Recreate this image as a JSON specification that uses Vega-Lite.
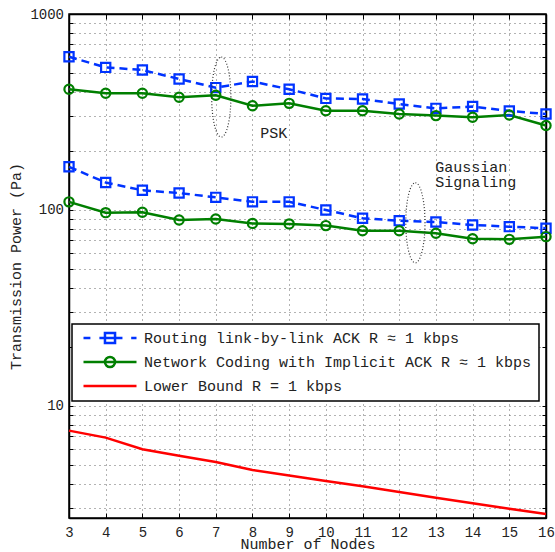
{
  "$schema": "https://vega.github.io/schema/vega-lite/v6.json",
  "width": 477,
  "height": 504,
  "autosize": {"type": "none"},
  "padding": {"left": 69, "top": 14, "right": 9, "bottom": 34},
  "background": "white",
  "config": {
    "font": "Liberation Mono",
    "view": {"stroke": "black", "strokeWidth": 1.5},
    "axis": {
      "labelFont": "Liberation Mono", "titleFont": "Liberation Mono",
      "labelFontSize": 14, "titleFontSize": 15, "titleFontWeight": "normal",
      "labelColor": "#222", "titleColor": "#222",
      "domainColor": "black", "domainWidth": 1.5,
      "tickColor": "black", "tickWidth": 1,
      "gridColor": "#666", "gridDash": [1, 4], "gridWidth": 1
    }
  },
  "datasets": {
    "series": [
      {"series": "Routing link-by-link ACK R ≈ 1 kbps", "mod": "PSK", "n": 3, "p": 605},
      {"series": "Routing link-by-link ACK R ≈ 1 kbps", "mod": "PSK", "n": 4, "p": 534},
      {"series": "Routing link-by-link ACK R ≈ 1 kbps", "mod": "PSK", "n": 5, "p": 518},
      {"series": "Routing link-by-link ACK R ≈ 1 kbps", "mod": "PSK", "n": 6, "p": 466},
      {"series": "Routing link-by-link ACK R ≈ 1 kbps", "mod": "PSK", "n": 7, "p": 421},
      {"series": "Routing link-by-link ACK R ≈ 1 kbps", "mod": "PSK", "n": 8, "p": 452},
      {"series": "Routing link-by-link ACK R ≈ 1 kbps", "mod": "PSK", "n": 9, "p": 413},
      {"series": "Routing link-by-link ACK R ≈ 1 kbps", "mod": "PSK", "n": 10, "p": 371},
      {"series": "Routing link-by-link ACK R ≈ 1 kbps", "mod": "PSK", "n": 11, "p": 368},
      {"series": "Routing link-by-link ACK R ≈ 1 kbps", "mod": "PSK", "n": 12, "p": 347},
      {"series": "Routing link-by-link ACK R ≈ 1 kbps", "mod": "PSK", "n": 13, "p": 330},
      {"series": "Routing link-by-link ACK R ≈ 1 kbps", "mod": "PSK", "n": 14, "p": 337},
      {"series": "Routing link-by-link ACK R ≈ 1 kbps", "mod": "PSK", "n": 15, "p": 320},
      {"series": "Routing link-by-link ACK R ≈ 1 kbps", "mod": "PSK", "n": 16, "p": 309},
      {"series": "Network Coding with Implicit ACK R ≈ 1 kbps", "mod": "PSK", "n": 3, "p": 413},
      {"series": "Network Coding with Implicit ACK R ≈ 1 kbps", "mod": "PSK", "n": 4, "p": 394},
      {"series": "Network Coding with Implicit ACK R ≈ 1 kbps", "mod": "PSK", "n": 5, "p": 394},
      {"series": "Network Coding with Implicit ACK R ≈ 1 kbps", "mod": "PSK", "n": 6, "p": 376},
      {"series": "Network Coding with Implicit ACK R ≈ 1 kbps", "mod": "PSK", "n": 7, "p": 385},
      {"series": "Network Coding with Implicit ACK R ≈ 1 kbps", "mod": "PSK", "n": 8, "p": 340},
      {"series": "Network Coding with Implicit ACK R ≈ 1 kbps", "mod": "PSK", "n": 9, "p": 350},
      {"series": "Network Coding with Implicit ACK R ≈ 1 kbps", "mod": "PSK", "n": 10, "p": 321},
      {"series": "Network Coding with Implicit ACK R ≈ 1 kbps", "mod": "PSK", "n": 11, "p": 321},
      {"series": "Network Coding with Implicit ACK R ≈ 1 kbps", "mod": "PSK", "n": 12, "p": 309},
      {"series": "Network Coding with Implicit ACK R ≈ 1 kbps", "mod": "PSK", "n": 13, "p": 303},
      {"series": "Network Coding with Implicit ACK R ≈ 1 kbps", "mod": "PSK", "n": 14, "p": 297},
      {"series": "Network Coding with Implicit ACK R ≈ 1 kbps", "mod": "PSK", "n": 15, "p": 305},
      {"series": "Network Coding with Implicit ACK R ≈ 1 kbps", "mod": "PSK", "n": 16, "p": 270},
      {"series": "Routing link-by-link ACK R ≈ 1 kbps", "mod": "Gaussian", "n": 3, "p": 166},
      {"series": "Routing link-by-link ACK R ≈ 1 kbps", "mod": "Gaussian", "n": 4, "p": 138},
      {"series": "Routing link-by-link ACK R ≈ 1 kbps", "mod": "Gaussian", "n": 5, "p": 126},
      {"series": "Routing link-by-link ACK R ≈ 1 kbps", "mod": "Gaussian", "n": 6, "p": 122},
      {"series": "Routing link-by-link ACK R ≈ 1 kbps", "mod": "Gaussian", "n": 7, "p": 116},
      {"series": "Routing link-by-link ACK R ≈ 1 kbps", "mod": "Gaussian", "n": 8, "p": 110},
      {"series": "Routing link-by-link ACK R ≈ 1 kbps", "mod": "Gaussian", "n": 9, "p": 110},
      {"series": "Routing link-by-link ACK R ≈ 1 kbps", "mod": "Gaussian", "n": 10, "p": 100},
      {"series": "Routing link-by-link ACK R ≈ 1 kbps", "mod": "Gaussian", "n": 11, "p": 90.7},
      {"series": "Routing link-by-link ACK R ≈ 1 kbps", "mod": "Gaussian", "n": 12, "p": 88.2},
      {"series": "Routing link-by-link ACK R ≈ 1 kbps", "mod": "Gaussian", "n": 13, "p": 86.8},
      {"series": "Routing link-by-link ACK R ≈ 1 kbps", "mod": "Gaussian", "n": 14, "p": 83.8},
      {"series": "Routing link-by-link ACK R ≈ 1 kbps", "mod": "Gaussian", "n": 15, "p": 82.2},
      {"series": "Routing link-by-link ACK R ≈ 1 kbps", "mod": "Gaussian", "n": 16, "p": 80.7},
      {"series": "Network Coding with Implicit ACK R ≈ 1 kbps", "mod": "Gaussian", "n": 3, "p": 110},
      {"series": "Network Coding with Implicit ACK R ≈ 1 kbps", "mod": "Gaussian", "n": 4, "p": 96.9},
      {"series": "Network Coding with Implicit ACK R ≈ 1 kbps", "mod": "Gaussian", "n": 5, "p": 97.3},
      {"series": "Network Coding with Implicit ACK R ≈ 1 kbps", "mod": "Gaussian", "n": 6, "p": 88.9},
      {"series": "Network Coding with Implicit ACK R ≈ 1 kbps", "mod": "Gaussian", "n": 7, "p": 89.9},
      {"series": "Network Coding with Implicit ACK R ≈ 1 kbps", "mod": "Gaussian", "n": 8, "p": 85.4},
      {"series": "Network Coding with Implicit ACK R ≈ 1 kbps", "mod": "Gaussian", "n": 9, "p": 84.9},
      {"series": "Network Coding with Implicit ACK R ≈ 1 kbps", "mod": "Gaussian", "n": 10, "p": 83.2},
      {"series": "Network Coding with Implicit ACK R ≈ 1 kbps", "mod": "Gaussian", "n": 11, "p": 78.4},
      {"series": "Network Coding with Implicit ACK R ≈ 1 kbps", "mod": "Gaussian", "n": 12, "p": 78.4},
      {"series": "Network Coding with Implicit ACK R ≈ 1 kbps", "mod": "Gaussian", "n": 13, "p": 76.0},
      {"series": "Network Coding with Implicit ACK R ≈ 1 kbps", "mod": "Gaussian", "n": 14, "p": 71.3},
      {"series": "Network Coding with Implicit ACK R ≈ 1 kbps", "mod": "Gaussian", "n": 15, "p": 70.8},
      {"series": "Network Coding with Implicit ACK R ≈ 1 kbps", "mod": "Gaussian", "n": 16, "p": 73.1},
      {"series": "Lower Bound R = 1 kbps", "mod": "Bound", "n": 3, "p": 7.48},
      {"series": "Lower Bound R = 1 kbps", "mod": "Bound", "n": 4, "p": 6.89},
      {"series": "Lower Bound R = 1 kbps", "mod": "Bound", "n": 5, "p": 6.01},
      {"series": "Lower Bound R = 1 kbps", "mod": "Bound", "n": 6, "p": 5.57},
      {"series": "Lower Bound R = 1 kbps", "mod": "Bound", "n": 7, "p": 5.18},
      {"series": "Lower Bound R = 1 kbps", "mod": "Bound", "n": 8, "p": 4.71},
      {"series": "Lower Bound R = 1 kbps", "mod": "Bound", "n": 9, "p": 4.42},
      {"series": "Lower Bound R = 1 kbps", "mod": "Bound", "n": 10, "p": 4.14},
      {"series": "Lower Bound R = 1 kbps", "mod": "Bound", "n": 11, "p": 3.89},
      {"series": "Lower Bound R = 1 kbps", "mod": "Bound", "n": 12, "p": 3.64},
      {"series": "Lower Bound R = 1 kbps", "mod": "Bound", "n": 13, "p": 3.40},
      {"series": "Lower Bound R = 1 kbps", "mod": "Bound", "n": 14, "p": 3.19},
      {"series": "Lower Bound R = 1 kbps", "mod": "Bound", "n": 15, "p": 2.99},
      {"series": "Lower Bound R = 1 kbps", "mod": "Bound", "n": 16, "p": 2.81}
    ],
    "notes": [
      {"label": "PSK", "n": 8.21, "p": 247},
      {"label": "Gaussian", "n": 12.98, "p": 165},
      {"label": "Signaling", "n": 12.98, "p": 139}
    ],
    "ovals": [
      {"group": "PSK", "n": 7.15, "p": 377},
      {"group": "Gaussian", "n": 12.44, "p": 86}
    ]
  },
  "resolve": {"axis": {"x": "independent", "y": "independent"}},
  "layer": [
    {
      "data": {"name": "series"},
      "transform": [{"filter": "datum.series != 'Routing link-by-link ACK R ≈ 1 kbps'"}],
      "mark": {"type": "line", "strokeWidth": 2.5},
      "encoding": {
        "x": {
          "field": "n", "type": "quantitative",
          "scale": {"domain": [3, 16], "nice": false, "zero": false},
          "axis": {
            "values": [3, 4, 5, 6, 7, 8, 9, 10, 11, 12, 13, 14, 15, 16],
            "grid": true, "tickSize": -5, "labelPadding": 12, "labelFlush": false,
            "title": "Number of Nodes", "titleY": 30, "titleBaseline": "alphabetic"
          }
        },
        "y": {
          "field": "p", "type": "quantitative",
          "scale": {"type": "log", "domain": [2.68, 1000], "nice": false},
          "axis": {
            "values": [3, 4, 5, 6, 7, 8, 9, 10, 20, 30, 40, 50, 60, 70, 80, 90, 100, 200, 300, 400, 500, 600, 700, 800, 900, 1000],
            "labelExpr": "datum.value == 10 || datum.value == 100 || datum.value == 1000 ? datum.value : ''",
            "labelOverlap": false, "grid": true, "tickSize": -4, "labelPadding": 9.5,
            "title": "Transmission Power (Pa)", "titleX": -53.5, "titleY": 252,
            "titleAngle": -90, "titleBaseline": "middle", "titleAlign": "center"
          }
        },
        "color": {
          "field": "series", "type": "nominal",
          "scale": {
            "domain": ["Routing link-by-link ACK R ≈ 1 kbps", "Network Coding with Implicit ACK R ≈ 1 kbps", "Lower Bound R = 1 kbps"],
            "range": ["#0033ff", "#007f00", "#ff0000"]
          },
          "legend": {
            "title": null, "orient": "none", "legendX": 3, "legendY": 310,
            "padding": 7, "strokeColor": "black", "fillColor": "white",
            "labelFont": "Liberation Mono", "labelFontSize": 15, "labelColor": "#222",
            "labelLimit": 600, "symbolSize": 2809, "symbolStrokeWidth": 2.5,
            "clipHeight": 14, "rowPadding": 9, "labelOffset": 6, "symbolOffset": 3,
            "encode": {
              "symbols": {
                "update": {
                  "shape": {"signal": "datum.value == 'Lower Bound R = 1 kbps' ? 'M-1,0L1,0' : (slice(datum.value, 0, 7) == 'Routing' ? 'M-0.19,-0.19L0.19,-0.19L0.19,0.19L-0.19,0.19Z M-1,0L-0.74,0M-0.4,0L0.47,0M0.8,0L1,0' : 'M0.19,0A0.19,0.19 0 1,1 -0.19,0A0.19,0.19 0 1,1 0.19,0M-1,0L1,0')"},
                  "fill": {"value": "transparent"},
                  "strokeWidth": {"value": 2.5}
                }
              },
              "legend": {"update": {"strokeWidth": {"value": 1.5}}}
            }
          }
        },
        "detail": {"field": "mod", "type": "nominal"}
      }
    },
    {
      "data": {"name": "series"},
      "transform": [{"filter": "datum.series == 'Routing link-by-link ACK R ≈ 1 kbps'"}],
      "mark": {"type": "line", "strokeWidth": 2.5, "strokeDash": [8, 5]},
      "encoding": {
        "x": {"field": "n", "type": "quantitative", "axis": null},
        "y": {"field": "p", "type": "quantitative", "axis": null},
        "color": {"field": "series", "type": "nominal"},
        "detail": {"field": "mod", "type": "nominal"}
      }
    },
    {
      "data": {"name": "series"},
      "transform": [{"filter": "datum.series != 'Lower Bound R = 1 kbps'"}],
      "mark": {"type": "point", "filled": false, "strokeWidth": 2.2, "size": 85, "opacity": 1},
      "encoding": {
        "x": {"field": "n", "type": "quantitative", "axis": null},
        "y": {"field": "p", "type": "quantitative", "axis": null},
        "color": {"field": "series", "type": "nominal"},
        "shape": {
          "field": "series", "type": "nominal",
          "scale": {
            "domain": ["Routing link-by-link ACK R ≈ 1 kbps", "Network Coding with Implicit ACK R ≈ 1 kbps"],
            "range": ["square", "circle"]
          },
          "legend": null
        }
      }
    },
    {
      "data": {"name": "notes"},
      "mark": {"type": "text", "align": "left", "baseline": "middle", "font": "Liberation Mono", "fontSize": 15, "color": "#222"},
      "encoding": {
        "x": {"field": "n", "type": "quantitative", "axis": null},
        "y": {"field": "p", "type": "quantitative", "axis": null},
        "text": {"field": "label"}
      }
    },
    {
      "data": {"name": "ovals"},
      "mark": {
        "type": "point", "shape": "M0,-1A0.24,1 0 1,1 0,1A0.24,1 0 1,1 0,-1Z",
        "size": 6400, "filled": false, "stroke": "#333", "strokeWidth": 1.2,
        "strokeDash": [1, 2], "opacity": 1
      },
      "encoding": {
        "x": {"field": "n", "type": "quantitative", "axis": null},
        "y": {"field": "p", "type": "quantitative", "axis": null}
      }
    },
    {
      "data": {"name": "series"},
      "mark": {"type": "point", "opacity": 0},
      "encoding": {
        "x": {
          "field": "n", "type": "quantitative",
          "axis": {"orient": "top", "labels": false, "grid": false, "tickSize": -5, "title": null,
                   "values": [3, 4, 5, 6, 7, 8, 9, 10, 11, 12, 13, 14, 15, 16]}
        },
        "y": {
          "field": "p", "type": "quantitative",
          "axis": {"orient": "right", "labels": false, "grid": false, "tickSize": -4, "title": null,
                   "values": [3, 4, 5, 6, 7, 8, 9, 10, 20, 30, 40, 50, 60, 70, 80, 90, 100, 200, 300, 400, 500, 600, 700, 800, 900, 1000]}
        }
      }
    }
  ]
}
